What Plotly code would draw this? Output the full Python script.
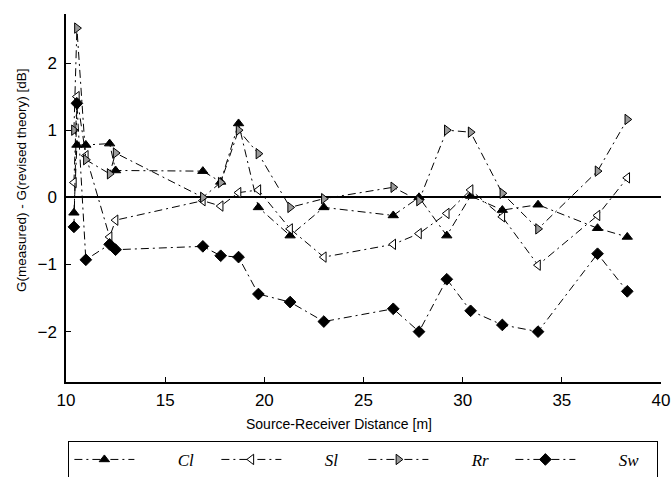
import plotly.graph_objects as go

# Source-receiver distances [m]
distance = [10.4, 10.55, 11.0, 12.2, 12.5, 16.9, 17.8, 18.7, 19.7, 21.3,
            23.0, 26.5, 27.8, 29.2, 30.4, 32.0, 33.8, 36.8, 38.3]

# G(measured) - G(revised theory) [dB]
cl = [-0.23, 0.78, 0.78, 0.80, 0.40, 0.39, 0.23, 1.10, -0.15, -0.57,
      -0.15, -0.27, 0.00, -0.57, 0.02, -0.19, -0.11, -0.46, -0.59]
sl = [0.22, 1.50, 0.62, -0.59, -0.34, -0.05, -0.13, 0.07, 0.11, -0.47,
      -0.89, -0.70, -0.54, -0.24, 0.11, -0.29, -1.01, -0.27, 0.29]
rr = [1.00, 2.52, 0.56, 0.35, 0.66, 0.00, 0.22, 1.00, 0.65, -0.15,
      -0.02, 0.15, -0.05, 1.00, 0.97, 0.06, -0.47, 0.39, 1.16]
sw = [-0.44, 1.40, -0.93, -0.70, -0.78, -0.73, -0.87, -0.89, -1.44, -1.56,
      -1.85, -1.66, -2.00, -1.22, -1.69, -1.90, -2.00, -0.84, -1.40]

series_names = ["Cl", "Sl", "Rr", "Sw"]
x_ticks = [10, 15, 20, 25, 30, 35, 40]
y_ticks = [-2, -1, 0, 1, 2]

styles = {
    "Cl": dict(symbol="triangle-up", color="black", line=dict(color="black", width=1)),
    "Sl": dict(symbol="triangle-left", color="white", line=dict(color="black", width=1)),
    "Rr": dict(symbol="triangle-right", color="#9a9a9a", line=dict(color="black", width=1)),
    "Sw": dict(symbol="diamond", color="black", line=dict(color="black", width=1)),
}
values = {"Cl": cl, "Sl": sl, "Rr": rr, "Sw": sw}

pad = "\u00a0" * 9
fig = go.Figure()
for name in series_names:
    st = styles[name]
    fig.add_trace(go.Scatter(
        x=distance, y=values[name], mode="lines+markers",
        name=pad + name,
        line=dict(color="black", width=1, dash="8px,4px,2px,4px"),
        marker=dict(symbol=st["symbol"], size=9, color=st["color"], line=st["line"]),
    ))

font_main = "Liberation Sans, Arial, sans-serif"
fig.update_layout(
    width=671, height=477,
    margin=dict(l=66, r=10, t=14, b=95, autoexpand=False),
    paper_bgcolor="white", plot_bgcolor="white",
    font=dict(family=font_main, size=16, color="black"),
    showlegend=True,
    legend=dict(
        orientation="h", x=0.004, y=-0.16, xanchor="left", yanchor="top",
        bordercolor="black", borderwidth=1, bgcolor="white",
        itemwidth=60, entrywidth=72, entrywidthmode="pixels",
        font=dict(family="Liberation Serif, serif", size=17, style="italic"),
    ),
    xaxis=dict(
        range=[10, 40], tickvals=x_ticks, ticks="inside", ticklen=5,
        tickcolor="black", showline=True, linecolor="black", linewidth=1.5,
        showgrid=False, zeroline=False, mirror=False,
        tickfont=dict(size=17), ticklabelstandoff=2,
    ),
    yaxis=dict(
        range=[-2.75, 2.73], tickvals=y_ticks, ticks="inside", ticklen=5,
        tickcolor="black", showline=True, linecolor="black", linewidth=1.5,
        showgrid=False, zeroline=True, zerolinecolor="black", zerolinewidth=1.5,
        mirror=False, tickfont=dict(size=17), ticklabelstandoff=4,
    ),
    annotations=[
        dict(text="Source-Receiver Distance [m]", xref="paper", yref="paper",
             x=0.459, y=-0.115, xanchor="center", yanchor="middle",
             showarrow=False, font=dict(size=14)),
        dict(text="G(measured) - G(revised theory) [dB]", xref="paper", yref="paper",
             x=-0.075, y=0.55, xanchor="center", yanchor="middle", textangle=-90,
             showarrow=False, font=dict(size=13.5)),
    ],
)

fig.write_html("out.html")
